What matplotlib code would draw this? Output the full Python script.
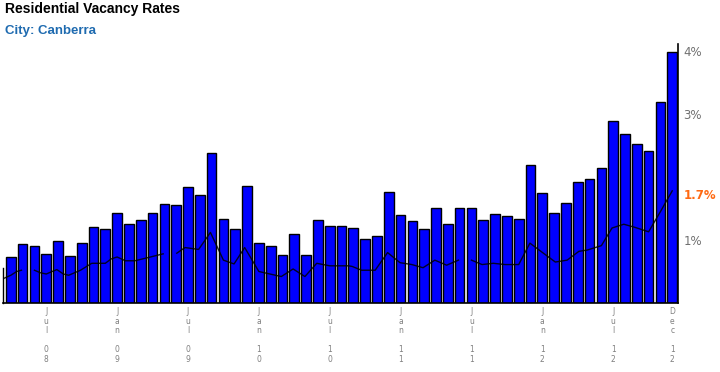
import numpy as np
import matplotlib
matplotlib.use("Agg")
from matplotlib import pyplot as plt

# monthly vacancy rate (%), Apr 2008 .. Dec 2012
months = ["Apr 08", "May 08", "Jun 08", "Jul 08", "Aug 08", "Sep 08", "Oct 08", "Nov 08", "Dec 08",
          "Jan 09", "Feb 09", "Mar 09", "Apr 09", "May 09", "Jun 09", "Jul 09", "Aug 09", "Sep 09",
          "Oct 09", "Nov 09", "Dec 09", "Jan 10", "Feb 10", "Mar 10", "Apr 10", "May 10", "Jun 10",
          "Jul 10", "Aug 10", "Sep 10", "Oct 10", "Nov 10", "Dec 10", "Jan 11", "Feb 11", "Mar 11",
          "Apr 11", "May 11", "Jun 11", "Jul 11", "Aug 11", "Sep 11", "Oct 11", "Nov 11", "Dec 11",
          "Jan 12", "Feb 12", "Mar 12", "Apr 12", "May 12", "Jun 12", "Jul 12", "Aug 12", "Sep 12",
          "Oct 12", "Nov 12", "Dec 12"]
rates = [0.73, 0.93, 0.90, 0.77, 0.98, 0.74, 0.96, 1.20, 1.17, 1.43, 1.25, 1.31, 1.43, 1.57, 1.55,
         1.84, 1.71, 2.38, 1.33, 1.17, 1.85, 0.96, 0.90, 0.76, 1.09, 0.76, 1.31, 1.22, 1.22, 1.19,
         1.01, 1.07, 1.76, 1.39, 1.30, 1.17, 1.50, 1.25, 1.50, 1.50, 1.31, 1.41, 1.38, 1.33, 2.19,
         1.75, 1.43, 1.59, 1.92, 1.97, 2.14, 2.89, 2.68, 2.53, 2.42, 3.19, 3.98]

# comparison line (month index, %), nan = no data
line_x = [-0.6, 0.0, 0.5, 0.9, np.nan, 2.0, 2.5, 3.0, 3.5, 3.9, 4.45, 4.9, 5.9, 6.85, 8.0, 8.5, 9.0,
          9.7, 10.5, 11.6, 12.9, np.nan, 14.05, 14.75, 15.9, 16.9, 18.0, 18.9, 19.8, 21.0, 21.7,
          22.9, 23.9, 24.9, 25.9, 27.0, 28.6, 28.9, 29.7, 30.85, 31.9, 32.95, 33.95, 34.9, 35.9,
          36.9, 37.9, np.nan, 39.0, 39.9, 40.85, 41.85, 43.0, 43.95, 44.95, 46.1, 47.1, 48.1,
          48.8, 50.0, 50.9, 51.9, 52.85, 54.0, 55.0, 56.0]
line_y = [0.39, 0.44, 0.50, 0.52, np.nan, 0.52, 0.48, 0.46, 0.50, 0.53, 0.46, 0.44, 0.52, 0.63,
          0.63, 0.70, 0.73, 0.67, 0.67, 0.72, 0.78, np.nan, 0.79, 0.88, 0.85, 1.12, 0.68, 0.62,
          0.88, 0.50, 0.47, 0.42, 0.54, 0.42, 0.63, 0.59, 0.59, 0.58, 0.52, 0.52, 0.80, 0.64,
          0.61, 0.56, 0.68, 0.60, 0.68, np.nan, 0.68, 0.61, 0.63, 0.61, 0.61, 0.95, 0.81, 0.65,
          0.68, 0.82, 0.84, 0.91, 1.19, 1.25, 1.20, 1.13, 1.45, 1.78]
latest = 1.7

ytick_vals = [1, 3, 4]
xtick_months = ["Jul 08", "Jan 09", "Jul 09", "Jan 10", "Jul 10", "Jan 11", "Jul 11", "Jan 12",
                "Jul 12", "Dec 12"]

fig = plt.figure(figsize=(7.2, 3.72), dpi=100)
ax = fig.add_axes([0.0042, 0.1855, 0.9375, 0.6962])

x = np.arange(len(rates))
ax.bar(x, rates, width=0.82, color="#0000ff", edgecolor="black", linewidth=1.0, zorder=2)
ax.plot(line_x, line_y, color="black", linewidth=1.0, alpha=0.85, zorder=3)

ax.set_xlim(-0.66, 56.49)
ax.set_ylim(0, 4.11)

ax.spines["top"].set_visible(False)
ax.spines["left"].set_bounds(0, 0.55)
ax.spines["left"].set_linewidth(1.0)
ax.spines["bottom"].set_linewidth(1.2)
ax.spines["right"].set_linewidth(1.2)

ax.yaxis.tick_right()
ax.set_yticks(ytick_vals)
ax.set_yticklabels([f"{v}%" for v in ytick_vals])
ax.tick_params(axis="y", length=0, pad=4, labelsize=8.5, labelcolor="#707070")
ax.text(1.008, latest / 4.11, f"{latest}%", transform=ax.transAxes, ha="left", va="center",
        fontsize=8.5, fontweight="bold", color="#ff6a13")

xt = [months.index(m) for m in xtick_months]
ax.set_xticks(xt)
ax.set_xticklabels(["\n".join(m[:3]) + "\n\n" + "\n".join(m[4:]) for m in xtick_months],
                   linespacing=1.08)
ax.tick_params(axis="x", length=0, pad=3, labelsize=5.5, labelcolor="#808080")

fig.text(0.007, 0.977, "Residential Vacancy Rates", fontsize=10, fontweight="bold",
         family="Liberation Sans", va="center", ha="left")
fig.text(0.007, 0.918, "City: Canberra", fontsize=9.5, fontweight="bold", color="#1f6bb0",
         family="Liberation Sans", va="center", ha="left")

fig.savefig("out.png", dpi=100)
